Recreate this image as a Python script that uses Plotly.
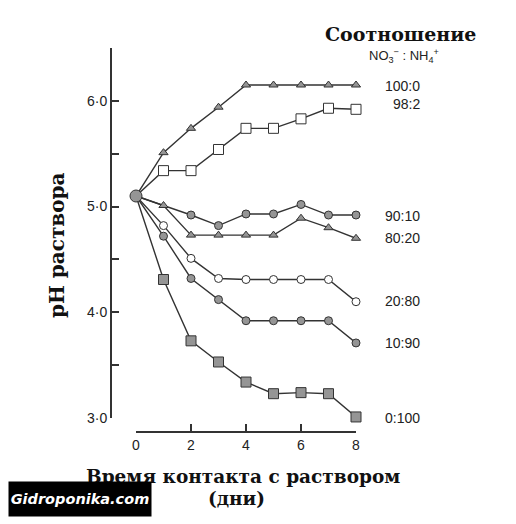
import plotly.graph_objects as go

# the page puts the figure 8px in from the top-left corner,
# so the figure is made that much smaller and every position is shifted
OFF = 8
W, H = 516 - OFF, 524 - OFF

# pH at the start of the experiment (all series share it)
START_DAY = 0
START_PH = 5.10

# NO3- : NH4+ ratio series
days_1_8 = [1, 2, 3, 4, 5, 6, 7, 8]
days_2_8 = [2, 3, 4, 5, 6, 7, 8]

ph_100_0 = [5.51, 5.74, 5.94, 6.15, 6.15, 6.15, 6.15, 6.15]
ph_98_2 = [5.34, 5.34, 5.54, 5.74, 5.74, 5.83, 5.93, 5.92]
ph_90_10 = [4.92, 4.82, 4.93, 4.93, 5.02, 4.92, 4.92]
ph_80_20 = [5.01, 4.73, 4.73, 4.73, 4.73, 4.89, 4.80, 4.70]
ph_20_80 = [4.82, 4.51, 4.32, 4.31, 4.31, 4.31, 4.31, 4.10]
ph_10_90 = [4.72, 4.32, 4.12, 3.92, 3.92, 3.92, 3.92, 3.71]
ph_0_100 = [4.31, 3.73, 3.53, 3.34, 3.23, 3.24, 3.23, 3.01]

# right-hand labels and where they sit on the pH scale
ratio_labels = ['100:0', '98:2', '90:10', '80:20', '20:80', '10:90', '0:100']
label_ph = [6.14, 5.97, 4.915, 4.70, 4.11, 3.71, 3.00]

y_tickvals = [3, 4, 5, 6]
y_ticktext = ['3·0', '4·0', '5·0', '6·0']
x_tickvals = [0, 2, 4, 6, 8]

INK = '#333333'
GREY = '#959595'
SERIF = 'DejaVu Serif'
SANS = 'Liberation Sans'


def px_x(p):
    return (p - OFF) / W


def px_y(p):
    return 1 - (p - OFF) / H


series = [
    (days_1_8, ph_100_0, dict(symbol='triangle-up', size=8, color=GREY)),
    (days_1_8, ph_98_2, dict(symbol='square', size=10, color='white')),
    (days_2_8, ph_90_10, dict(symbol='circle', size=8, color=GREY)),
    (days_1_8, ph_80_20, dict(symbol='triangle-up', size=8, color=GREY)),
    (days_1_8, ph_20_80, dict(symbol='circle', size=8, color='white')),
    (days_1_8, ph_10_90, dict(symbol='circle', size=8, color=GREY)),
    (days_1_8, ph_0_100, dict(symbol='square', size=10, color=GREY)),
]

fig = go.Figure()

# connecting lines (each one starts from the common start point)
for xs, ys, _ in series:
    fig.add_trace(go.Scatter(
        x=[START_DAY] + xs, y=[START_PH] + ys,
        mode='lines', line=dict(color=INK, width=1.4),
        hoverinfo='skip', showlegend=False,
    ))

for (xs, ys, mk), name in zip(series, ratio_labels):
    fig.add_trace(go.Scatter(
        x=xs, y=ys, mode='markers', name=name,
        marker=dict(symbol=mk['symbol'], size=mk['size'], color=mk['color'],
                    line=dict(color=INK, width=1)),
        cliponaxis=False, showlegend=False,
    ))

fig.add_trace(go.Scatter(
    x=[START_DAY], y=[START_PH], mode='markers',
    marker=dict(symbol='circle', size=12, color=GREY,
                line=dict(color=INK, width=1)),
    cliponaxis=False, showlegend=False,
))

annotations = []
for txt, yv in zip(ratio_labels, label_ph):
    annotations.append(dict(
        text=txt, xref='paper', yref='y', x=px_x(422), y=yv,
        xanchor='right', yanchor='middle', showarrow=False,
        font=dict(family=SANS, size=14, color='#222'),
    ))

titles = [
    dict(text='<b>Соотношение</b>', x=px_x(400), y=px_y(34),
         font=dict(family=SERIF, size=19, color='#111')),
    dict(text='NO<sub>3</sub><sup>−</sup> : NH<sub>4</sub><sup>+</sup>',
         x=px_x(404), y=px_y(56),
         font=dict(family=SANS, size=13, color='#222')),
    dict(text='<b>pH раствора</b>', x=px_x(57), y=px_y(245), textangle=-90,
         font=dict(family=SERIF, size=20, color='#111')),
    dict(text='<b>Время контакта с раствором</b>', x=px_x(243), y=px_y(476),
         font=dict(family=SERIF, size=18.5, color='#111')),
    dict(text='<b>(дни)</b>', x=px_x(236), y=px_y(498),
         font=dict(family=SERIF, size=18.5, color='#111')),
]
for a in titles:
    a.update(xref='paper', yref='paper', xanchor='center', yanchor='middle',
             showarrow=False)
annotations += titles

# site watermark in the bottom-left corner
annotations.append(dict(
    text='<b><i>Gidroponika.com</i></b>', xref='paper', yref='paper',
    x=0, y=px_y(517), xanchor='left', yanchor='bottom',
    width=140, height=32, bgcolor='black', borderpad=1, showarrow=False,
    font=dict(family='DejaVu Sans', size=14.5, color='white'),
))

fig.update_layout(
    width=W, height=H,
    margin=dict(l=0, r=0, t=0, b=0, autoexpand=False),
    paper_bgcolor='white', plot_bgcolor='white',
    showlegend=False,
    annotations=annotations,
    xaxis=dict(
        domain=[px_x(136), px_x(356)], range=[0, 8],
        anchor='free', position=px_y(432), automargin=False,
        showline=True, linecolor=INK, linewidth=2,
        ticks='inside', ticklen=7, tickwidth=2, tickcolor=INK,
        tickvals=x_tickvals, showgrid=False, zeroline=False,
        tickfont=dict(family=SANS, size=14, color='#222'),
    ),
    yaxis=dict(
        domain=[px_y(418), px_y(48)], range=[3.0, 6.5],
        anchor='free', position=px_x(111), automargin=False,
        showline=True, linecolor=INK, linewidth=2,
        ticks='inside', ticklen=7, tickwidth=2, tickcolor=INK,
        tickvals=y_tickvals, ticktext=y_ticktext,
        minor=dict(tickvals=[3.5, 4.5, 5.5, 6.5], ticks='inside',
                   ticklen=7, tickwidth=2, tickcolor=INK),
        showgrid=False, zeroline=False,
        tickfont=dict(family=SANS, size=14, color='#222'),
    ),
)

fig.write_html("out.html")
